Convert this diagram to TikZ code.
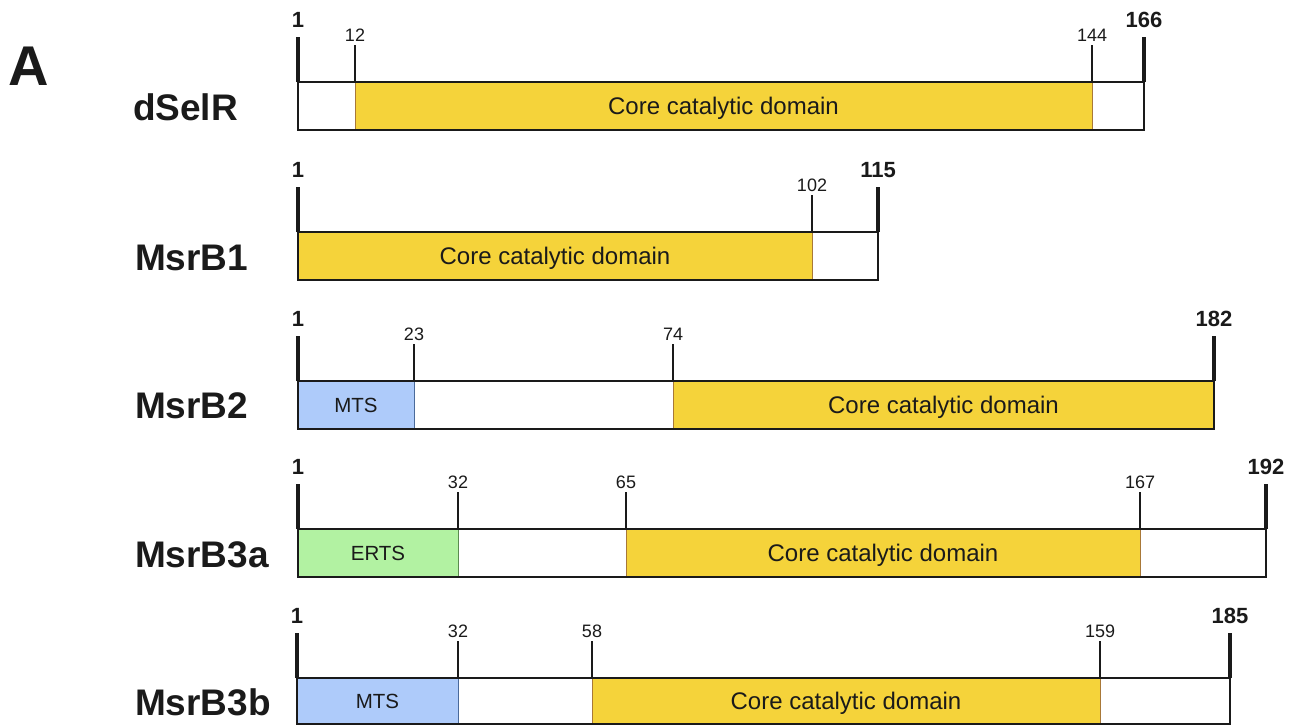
\documentclass[tikz,border=0pt]{standalone}
\usepackage{fontspec}
\setmainfont{Liberation Sans}
\definecolor{coreY}{HTML}{F5D33A}
\definecolor{coreE}{HTML}{A87838}
\definecolor{mtsB}{HTML}{AECBFA}
\definecolor{mtsE}{HTML}{4A6A9A}
\definecolor{ertsG}{HTML}{B2F2A2}
\definecolor{ertsE}{HTML}{5A8A50}
\definecolor{ink}{HTML}{1A1A1A}
\begin{document}
\begin{tikzpicture}[x=1pt,y=-1pt,
  every node/.style={inner sep=0pt, outer sep=0pt, text=ink},
  seg/.style={rectangle, anchor=north west, minimum height=48pt, line width=1pt, text depth=0pt},
  coreseg/.style={seg, fill=coreY, draw=coreE, font=\fontsize{24}{28}\selectfont},
  mtsseg/.style={seg, fill=mtsB, draw=mtsE, font=\fontsize{20.5}{24}\selectfont},
  ertsseg/.style={seg, fill=ertsG, draw=ertsE, font=\fontsize{20.5}{24}\selectfont},
  protbox/.style={rectangle, anchor=north west, minimum height=48pt, draw=ink, line width=2.5pt},
  thintick/.style={draw=ink, line width=2.2pt},
  thicktick/.style={draw=ink, line width=3.8pt},
  numlab/.style={anchor=base, font=\fontsize{18}{21}\selectfont},
  endlab/.style={anchor=base, font=\bfseries\fontsize{22}{26}\selectfont},
  protname/.style={anchor=base west, font=\bfseries\fontsize{37}{40}\selectfont},
]
\useasboundingbox (0,0) rectangle (1297,726);

% panel letter
\node[anchor=base west, font=\bfseries\fontsize{56}{60}\selectfont] (panelA) at (9,85) {A};

% ---------------- dSelR ----------------
\node[protname] (n1) at (133,120) {dSelR};
\draw[thicktick] (298,82) -- (298,37);
\draw[thicktick] (1144,82) -- (1144,37);
\draw[thintick] (355,82) -- (355,45);
\draw[thintick] (1092,82) -- (1092,45);
\node[endlab] (p1a) at (298,27) {1};
\node[endlab] (p1b) at (1144,27) {166};
\node[numlab] (p1c) at (355,41) {12};
\node[numlab] (p1d) at (1092,41) {144};
\node[coreseg, minimum width=737pt] (c1) at (355,82) {Core catalytic domain};
\node[protbox, minimum width=846pt] (b1) at (298,82) {};

% ---------------- MsrB1 ----------------
\node[protname] (n2) at (135,270) {MsrB1};
\draw[thicktick] (298,232) -- (298,187);
\draw[thicktick] (878,232) -- (878,187);
\draw[thintick] (812,232) -- (812,195);
\node[endlab] (p2a) at (298,177) {1};
\node[endlab] (p2b) at (878,177) {115};
\node[numlab] (p2c) at (812,191) {102};
\node[coreseg, minimum width=514pt] (c2) at (298,232) {Core catalytic domain};
\node[protbox, minimum width=580pt] (b2) at (298,232) {};

% ---------------- MsrB2 ----------------
\node[protname] (n3) at (135,418) {MsrB2};
\draw[thicktick] (298,381) -- (298,336);
\draw[thicktick] (1214,381) -- (1214,336);
\draw[thintick] (414,381) -- (414,344);
\draw[thintick] (673,381) -- (673,344);
\node[endlab] (p3a) at (298,326) {1};
\node[endlab] (p3b) at (1214,326) {182};
\node[numlab] (p3c) at (414,340) {23};
\node[numlab] (p3d) at (673,340) {74};
\node[mtsseg, minimum width=116pt] (m3) at (298,381) {MTS};
\node[coreseg, minimum width=541pt] (c3) at (673,381) {Core catalytic domain};
\node[protbox, minimum width=916pt] (b3) at (298,381) {};

% ---------------- MsrB3a ----------------
\node[protname] (n4) at (135,567) {MsrB3a};
\draw[thicktick] (298,529) -- (298,484);
\draw[thicktick] (1266,529) -- (1266,484);
\draw[thintick] (458,529) -- (458,492);
\draw[thintick] (626,529) -- (626,492);
\draw[thintick] (1140,529) -- (1140,492);
\node[endlab] (p4a) at (298,474) {1};
\node[endlab] (p4b) at (1266,474) {192};
\node[numlab] (p4c) at (458,488) {32};
\node[numlab] (p4d) at (626,488) {65};
\node[numlab] (p4e) at (1140,488) {167};
\node[ertsseg, minimum width=160pt] (e4) at (298,529) {ERTS};
\node[coreseg, minimum width=514pt] (c4) at (626,529) {Core catalytic domain};
\node[protbox, minimum width=968pt] (b4) at (298,529) {};

% ---------------- MsrB3b ----------------
\node[protname] (n5) at (135,715) {MsrB3b};
\draw[thicktick] (297,678) -- (297,633);
\draw[thicktick] (1230,678) -- (1230,633);
\draw[thintick] (458,678) -- (458,641);
\draw[thintick] (592,678) -- (592,641);
\draw[thintick] (1100,678) -- (1100,641);
\node[endlab] (p5a) at (297,623) {1};
\node[endlab] (p5b) at (1230,623) {185};
\node[numlab] (p5c) at (458,637) {32};
\node[numlab] (p5d) at (592,637) {58};
\node[numlab] (p5e) at (1100,637) {159};
\node[mtsseg, minimum width=161pt, minimum height=46pt] (m5) at (297,678) {MTS};
\node[coreseg, minimum width=508pt, minimum height=46pt] (c5) at (592,678) {Core catalytic domain};
\node[protbox, minimum width=933pt, minimum height=46pt] (b5) at (297,678) {};
\end{tikzpicture}
\end{document}
